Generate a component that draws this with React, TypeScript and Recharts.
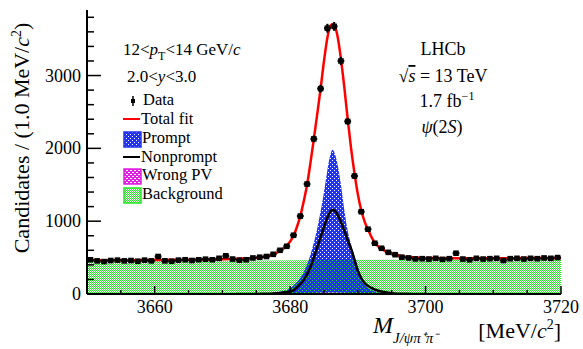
import React from "react";
import { Area, ComposedChart, ErrorBar, Line, Scatter, XAxis, YAxis } from "recharts";

// bin centres, 1 MeV bins
const massBins = [
  3650.5, 3651.5, 3652.5, 3653.5, 3654.5, 3655.5, 3656.5, 3657.5, 3658.5, 3659.5,
  3660.5, 3661.5, 3662.5, 3663.5, 3664.5, 3665.5, 3666.5, 3667.5, 3668.5, 3669.5,
  3670.5, 3671.5, 3672.5, 3673.5, 3674.5, 3675.5, 3676.5, 3677.5, 3678.5, 3679.5,
  3680.5, 3681.5, 3682.5, 3683.5, 3684.5, 3685.5, 3686.5, 3687.5, 3688.5, 3689.5,
  3690.5, 3691.5, 3692.5, 3693.5, 3694.5, 3695.5, 3696.5, 3697.5, 3698.5, 3699.5,
  3700.5, 3701.5, 3702.5, 3703.5, 3704.5, 3705.5, 3706.5, 3707.5, 3708.5, 3709.5,
  3710.5, 3711.5, 3712.5, 3713.5, 3714.5, 3715.5, 3716.5, 3717.5, 3718.5, 3719.5,
];
const candidates = [
  470, 455, 445, 460, 465, 455, 460, 450, 465, 455,
  515, 455, 450, 465, 470, 460, 470, 478, 470, 490,
  525, 480, 465, 470, 495, 505, 515, 545, 600, 655,
  807, 1070, 1510, 2130, 2820, 3650, 3675, 3200, 2370, 1620,
  1130, 890, 697, 628, 572, 540, 505, 495, 482, 485,
  480, 490, 475, 485, 560, 480, 470, 490, 480, 485,
  490, 460, 485, 490, 480, 490, 485, 495, 490, 500,
];

const fitMass = [
  3650, 3655, 3660, 3665, 3670, 3673, 3675, 3676, 3677, 3678, 3679, 3679.5, 3680,
  3680.5, 3681, 3681.5, 3682, 3682.5, 3683, 3683.5, 3684, 3684.5, 3685, 3685.5, 3686,
  3686.25, 3686.5, 3687, 3687.5, 3688, 3688.5, 3689, 3689.5, 3690, 3690.5, 3691,
  3691.5, 3692, 3692.5, 3693, 3693.5, 3694, 3694.5, 3695, 3696, 3697, 3698, 3700,
  3705, 3710, 3715, 3720,
];
const totalFit = [
  462, 465, 468, 472, 478, 486, 496, 508, 528, 565, 625, 665, 720,
  800, 920, 1070, 1270, 1500, 1800, 2130, 2470, 2820, 3200, 3520, 3690,
  3705, 3690, 3540, 3230, 2840, 2400, 2000, 1660, 1370, 1150, 995,
  885, 785, 705, 655, 620, 592, 570, 552, 528, 512, 503, 495,
  492, 492, 493, 495,
];

const promptMass = [
  3674, 3676, 3678, 3679, 3680, 3681, 3682, 3683, 3684, 3685, 3685.5, 3686, 3686.25,
  3686.5, 3687, 3687.5, 3688, 3688.5, 3689, 3689.5, 3690, 3690.5, 3691, 3692, 3693,
  3694, 3696,
];
const prompt = [
  0, 5, 20, 40, 80, 160, 300, 540, 900, 1400, 1700, 1930, 1980,
  1950, 1780, 1500, 1150, 870, 680, 530, 380, 220, 130, 55, 20,
  8, 0,
];

const nonpromptMass = [
  3672, 3676, 3678, 3679, 3680, 3680.5, 3681, 3682, 3683, 3684, 3684.5, 3685, 3685.5,
  3686, 3686.25, 3686.5, 3687, 3688, 3688.5, 3689, 3690, 3690.5, 3691, 3692, 3693,
  3694, 3695, 3697, 3700,
];
const nonprompt = [
  0, 2, 10, 20, 35, 50, 90, 190, 370, 640, 780, 920, 1050,
  1140, 1155, 1150, 1090, 870, 740, 620, 320, 220, 150, 85, 45,
  25, 12, 3, 0,
];

const wrongPvMass = [3676, 3682, 3686, 3690, 3696];
const wrongPv = [0, 8, 20, 8, 0];

const bkgMass = [3650, 3720];
const background = [448, 485];

const xTicks = [3650, 3655, 3660, 3665, 3670, 3675, 3680, 3685, 3690, 3695, 3700, 3705, 3710, 3715, 3720];
const xMajor = [3660, 3680, 3700, 3720];
const yTicks = [0, 200, 400, 600, 800, 1000, 1200, 1400, 1600, 1800, 2000, 2200, 2400, 2600, 2800, 3000, 3200, 3400, 3600, 3800];
const yMajor = [0, 1000, 2000, 3000];

const serif = { fontFamily: "'Liberation Serif', serif" };
const blue = "#2233ee";

const pts = (xs: number[], ys: number[]) => xs.map((x, i) => ({ x, y: ys[i] }));

const dataPoints = massBins.map((x, i) => ({
  x,
  y: candidates[i],
  ey: Math.sqrt(candidates[i]),
}));

const BottomTick = ({ x, y, payload }: any) => {
  const major = xMajor.includes(payload.value);
  return (
    <g>
      <line x1={x} x2={x} y1={y} y2={y - (major ? 8 : 4)} stroke="#000" strokeWidth={1.5} />
      {major && (
        <text x={x} y={y + 19} textAnchor="middle" fontSize={18} fontFamily="Liberation Serif" style={serif} fill="#000">
          {payload.value}
        </text>
      )}
    </g>
  );
};

const TopTick = ({ x, y, payload }: any) => {
  const major = xMajor.includes(payload.value);
  return <line x1={x} x2={x} y1={y} y2={y + (major ? 8 : 4)} stroke="#000" strokeWidth={1.5} />;
};

const LeftTick = ({ x, y, payload }: any) => {
  const major = yMajor.includes(payload.value);
  return (
    <g>
      <line x1={x} x2={x + (major ? 14 : 7)} y1={y} y2={y} stroke="#000" strokeWidth={1.5} />
      {major && (
        <text x={x - 6} y={y + 6} textAnchor="end" fontSize={18} fontFamily="Liberation Serif" style={serif} fill="#000">
          {payload.value}
        </text>
      )}
    </g>
  );
};

const RightTick = ({ x, y, payload }: any) => {
  const major = yMajor.includes(payload.value);
  return <line x1={x} x2={x - (major ? 14 : 7)} y1={y} y2={y} stroke="#000" strokeWidth={1.5} />;
};

// square marker with the horizontal bin-width bar
const DataMarker = ({ cx, cy }: any) => (
  <g>
    <line x1={cx - 3.4} x2={cx + 3.4} y1={cy} y2={cy} stroke="#000" strokeWidth={2.2} />
    <rect x={cx - 2.8} y={cy - 2.8} width={5.6} height={5.6} fill="#000" />
  </g>
);

const Patterns = () => (
  <svg width={0} height={0} style={{ position: "absolute" }}>
    <defs>
      <pattern id="bkgHatch" width={2} height={2} patternUnits="userSpaceOnUse">
        <rect width={2} height={2} fill="#fff" />
        <rect x={0} y={0} width={1} height={1} fill="#22e622" />
        <rect x={1} y={1} width={1} height={1} fill="#22e622" />
      </pattern>
      <pattern id="promptHatch" width={4} height={4} patternUnits="userSpaceOnUse">
        <rect x={1} y={0} width={3} height={1} fill={blue} />
        <rect x={0} y={1} width={4} height={1} fill={blue} />
        <rect x={0} y={2} width={2} height={1} fill={blue} />
        <rect x={3} y={2} width={1} height={1} fill={blue} />
        <rect x={0} y={3} width={4} height={1} fill={blue} />
      </pattern>
      <pattern id="wpvHatch" width={4} height={4} patternUnits="userSpaceOnUse">
        <rect width={4} height={4} fill="#e020e0" />
        <rect x={0} y={0} width={2} height={1} fill="#fff" />
        <rect x={2} y={2} width={2} height={1} fill="#fff" />
      </pattern>
    </defs>
  </svg>
);

const Overlay = () => (
  <svg width={583} height={349} style={{ position: "absolute", left: 0, top: 0, pointerEvents: "none", ...serif }}>
    {/* axis titles */}
    <text transform="translate(29,138) rotate(-90)" textAnchor="middle" fontSize={22} fill="#000">
      Candidates / (1.0 MeV/<tspan fontStyle="italic">c</tspan>
      <tspan fontSize={14} dy={-8}>2</tspan>
      <tspan dy={8}>)</tspan>
    </text>
    <text x={373} y={333} fontSize={24} fontStyle="italic" fill="#000">M</text>
    <text x={393} y={343} fontSize={15} fontStyle="italic" fill="#000">J/ψπ⁺π⁻</text>
    <text x={561} y={338} textAnchor="end" fontSize={22} fill="#000">
      [MeV/<tspan fontStyle="italic">c</tspan>
      <tspan fontSize={14} dy={-9}>2</tspan>
      <tspan dy={9}>]</tspan>
    </text>

    {/* kinematic bin */}
    <text x={123} y={55} fontSize={17} fill="#000">
      12&lt;<tspan fontStyle="italic">p</tspan>
      <tspan fontSize={12} dy={5}>T</tspan>
      <tspan dy={-5}>&lt;14 GeV/</tspan>
      <tspan fontStyle="italic">c</tspan>
    </text>
    <text x={127} y={82} fontSize={17} fill="#000">
      2.0&lt;<tspan fontStyle="italic">y</tspan>&lt;3.0
    </text>

    {/* legend */}
    <line x1={133} x2={133} y1={96} y2={106} stroke="#000" strokeWidth={1.5} />
    <rect x={131} y={99} width={4} height={4} fill="#000" />
    <text x={143} y={105} fontSize={16.5} fill="#000">Data</text>
    <line x1={123} x2={140} y1={119} y2={119} stroke="#f00" strokeWidth={2} />
    <text x={141} y={124} fontSize={16.5} fill="#000">Total fit</text>
    <rect x={124} y={132} width={17} height={15} fill="url(#promptHatch)" stroke={blue} strokeWidth={1.5} />
    <text x={142} y={143} fontSize={16.5} fill="#000">Prompt</text>
    <line x1={123} x2={140} y1={157} y2={157} stroke="#000" strokeWidth={2} />
    <text x={141} y={162} fontSize={16.5} fill="#000">Nonprompt</text>
    <rect x={124} y={169} width={17} height={15} fill="url(#wpvHatch)" stroke="#e020e0" strokeWidth={1.5} />
    <text x={142} y={180} fontSize={16.5} fill="#000">Wrong PV</text>
    <rect x={124} y={188} width={17} height={15} fill="url(#bkgHatch)" stroke="#22e622" strokeWidth={1.5} />
    <text x={142} y={199} fontSize={16.5} fill="#000">Background</text>

    {/* experiment label */}
    <text x={443} y={55} textAnchor="middle" fontSize={18} fill="#000">LHCb</text>
    <text x={443} y={82} textAnchor="middle" fontSize={18} fill="#000">
      √<tspan fontStyle="italic" style={{ textDecoration: "overline" }}>s</tspan> = 13 TeV
    </text>
    <text x={447} y={107} textAnchor="middle" fontSize={18} fill="#000">
      1.7 fb<tspan fontSize={12} dy={-7}>−1</tspan>
    </text>
    <text x={442} y={133} textAnchor="middle" fontSize={18} fill="#000">
      <tspan fontStyle="italic">ψ</tspan>(2<tspan fontStyle="italic">S</tspan>)
    </text>
  </svg>
);

const App = () => {
  return (
    <div style={{ position: "absolute", left: 0, top: 0, width: 583, height: 349, background: "#fff" }}>
      <Patterns />
      <ComposedChart width={583} height={349} margin={{ top: 10, right: 22, left: 0, bottom: 0 }}>
        <XAxis
          xAxisId="b"
          dataKey="x"
          type="number"
          domain={[3650, 3720]}
          ticks={xTicks}
          interval={0}
          allowDataOverflow
          height={55}
          tickSize={0}
          tickMargin={0}
          tickLine={false}
          tick={<BottomTick />}
          axisLine={{ stroke: "#000", strokeWidth: 2 }}
        />
        <XAxis
          xAxisId="t"
          orientation="top"
          dataKey="x"
          type="number"
          domain={[3650, 3720]}
          ticks={xTicks}
          interval={0}
          allowDataOverflow
          height={0}
          tickSize={0}
          tickMargin={0}
          tickLine={false}
          tick={<TopTick />}
          axisLine={{ stroke: "#000", strokeWidth: 2 }}
        />
        <YAxis
          yAxisId="l"
          type="number"
          domain={[0, 3900]}
          ticks={yTicks}
          interval={0}
          allowDataOverflow
          width={87}
          tickSize={0}
          tickMargin={0}
          tickLine={false}
          tick={<LeftTick />}
          axisLine={{ stroke: "#000", strokeWidth: 2 }}
        />
        <YAxis
          yAxisId="r"
          orientation="right"
          type="number"
          domain={[0, 3900]}
          ticks={yTicks}
          interval={0}
          allowDataOverflow
          width={0}
          tickSize={0}
          tickMargin={0}
          tickLine={false}
          tick={<RightTick />}
          axisLine={{ stroke: "#000", strokeWidth: 2 }}
        />

        <Area
          xAxisId="b"
          yAxisId="l"
          data={pts(bkgMass, background)}
          dataKey="y"
          type="linear"
          fill="url(#bkgHatch)"
          fillOpacity={1}
          stroke="none"
          isAnimationActive={false}
        />
        <Area
          xAxisId="b"
          yAxisId="l"
          data={pts(promptMass, prompt)}
          dataKey="y"
          type="monotone"
          fill="url(#promptHatch)"
          fillOpacity={1}
          stroke="none"
          isAnimationActive={false}
        />
        <Area
          xAxisId="b"
          yAxisId="l"
          data={pts(wrongPvMass, wrongPv)}
          dataKey="y"
          type="monotone"
          fill="url(#wpvHatch)"
          fillOpacity={1}
          stroke="none"
          isAnimationActive={false}
        />
        <Line
          xAxisId="b"
          yAxisId="l"
          data={pts(nonpromptMass, nonprompt)}
          dataKey="y"
          type="monotone"
          stroke="#000"
          strokeWidth={2.5}
          dot={false}
          isAnimationActive={false}
        />
        <Line
          xAxisId="b"
          yAxisId="l"
          data={pts(fitMass, totalFit)}
          dataKey="y"
          type="monotone"
          stroke="#f00"
          strokeWidth={2.5}
          dot={false}
          isAnimationActive={false}
        />
        <Scatter
          xAxisId="b"
          yAxisId="l"
          data={dataPoints}
          dataKey="y"
          shape={<DataMarker />}
          isAnimationActive={false}
        >
          <ErrorBar dataKey="ey" direction="y" width={0} stroke="#000" strokeWidth={2.2} />
        </Scatter>
      </ComposedChart>
      <Overlay />
    </div>
  );
};

export default App;
